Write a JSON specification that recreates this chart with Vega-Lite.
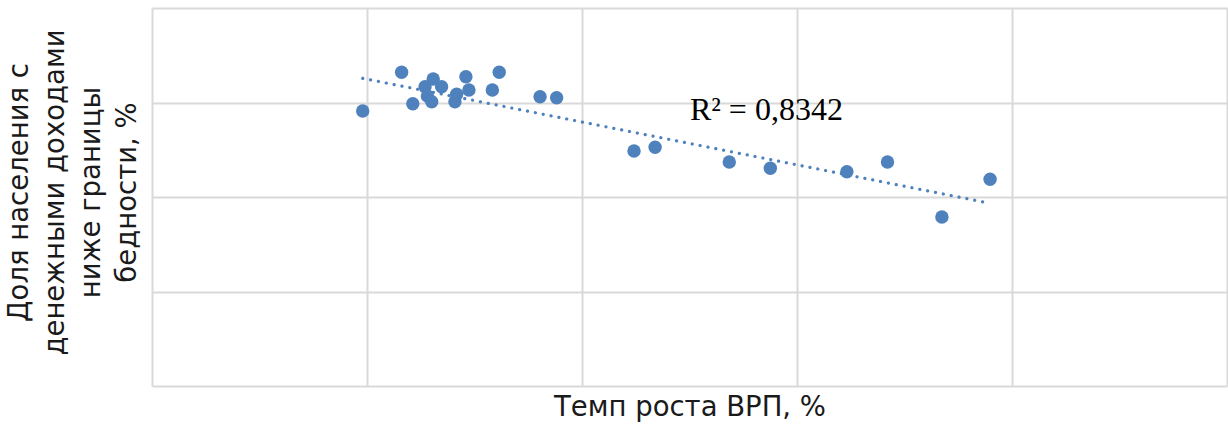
{
  "$schema": "https://vega.github.io/schema/vega-lite/v6.json",
  "width": 1075,
  "height": 378,
  "autosize": "none",
  "padding": {"left": 152, "top": 8, "right": 1, "bottom": 41},
  "background": "white",
  "config": {"view": {"stroke": null}, "font": "DejaVu Sans"},
  "datasets": {
    "points": [
      {"growth": 0.980, "poverty": 2.910},
      {"growth": 1.161, "poverty": 3.320},
      {"growth": 1.213, "poverty": 2.987},
      {"growth": 1.270, "poverty": 3.167},
      {"growth": 1.281, "poverty": 3.069},
      {"growth": 1.301, "poverty": 3.008},
      {"growth": 1.308, "poverty": 3.249},
      {"growth": 1.347, "poverty": 3.167},
      {"growth": 1.409, "poverty": 3.008},
      {"growth": 1.417, "poverty": 3.087},
      {"growth": 1.460, "poverty": 3.273},
      {"growth": 1.474, "poverty": 3.132},
      {"growth": 1.583, "poverty": 3.132},
      {"growth": 1.615, "poverty": 3.320},
      {"growth": 1.805, "poverty": 3.061},
      {"growth": 1.882, "poverty": 3.051},
      {"growth": 2.242, "poverty": 2.487},
      {"growth": 2.340, "poverty": 2.526},
      {"growth": 2.685, "poverty": 2.370},
      {"growth": 2.876, "poverty": 2.304},
      {"growth": 3.232, "poverty": 2.268},
      {"growth": 3.421, "poverty": 2.370},
      {"growth": 3.674, "poverty": 1.788},
      {"growth": 3.898, "poverty": 2.187}
    ],
    "trend": [
      {"growth": 0.980, "poverty": 3.256},
      {"growth": 3.892, "poverty": 1.936}
    ],
    "label": [
      {"growth": 2.502, "poverty": 2.815, "text": "R² = 0,8342"}
    ]
  },
  "encoding": {
    "x": {
      "field": "growth", "type": "quantitative",
      "scale": {"domain": [0, 5], "nice": false, "zero": false},
      "axis": {
        "values": [0, 1, 2, 3, 4, 5], "labels": false, "ticks": false, "domain": false,
        "grid": true, "gridColor": "#d9d9d9", "gridWidth": 2,
        "title": "Темп роста ВРП, %", "titleFontSize": 27.5, "titleFontWeight": "normal",
        "titleColor": "#1a1a1a", "titlePadding": 7, "titleFont": "DejaVu Sans"
      }
    },
    "y": {
      "field": "poverty", "type": "quantitative",
      "scale": {"domain": [0, 4], "nice": false, "zero": false},
      "axis": {
        "values": [0, 1, 2, 3, 4], "labels": false, "ticks": false, "domain": false,
        "grid": true, "gridColor": "#d9d9d9", "gridWidth": 2,
        "title": ["Доля населения с", "денежными доходами", "ниже границы", "бедности, %"],
        "titleFontSize": 27.5, "titleFontWeight": "normal", "titleColor": "#1a1a1a",
        "titleFont": "DejaVu Sans", "titleLineHeight": 36,
        "titleAngle": -90, "titleAlign": "center", "titleBaseline": "top",
        "titleX": -147, "titleY": 184
      }
    }
  },
  "layer": [
    {
      "data": {"name": "trend"},
      "mark": {"type": "line", "color": "#4F81BD", "strokeWidth": 3.2, "strokeDash": [0.1, 7.9], "strokeCap": "round"}
    },
    {
      "data": {"name": "points"},
      "mark": {"type": "circle", "size": 180, "color": "#4F81BD", "opacity": 1}
    },
    {
      "data": {"name": "label"},
      "mark": {"type": "text", "font": "Liberation Serif", "fontSize": 32, "align": "left", "baseline": "alphabetic", "color": "#000000"},
      "encoding": {"text": {"field": "text"}}
    }
  ]
}
